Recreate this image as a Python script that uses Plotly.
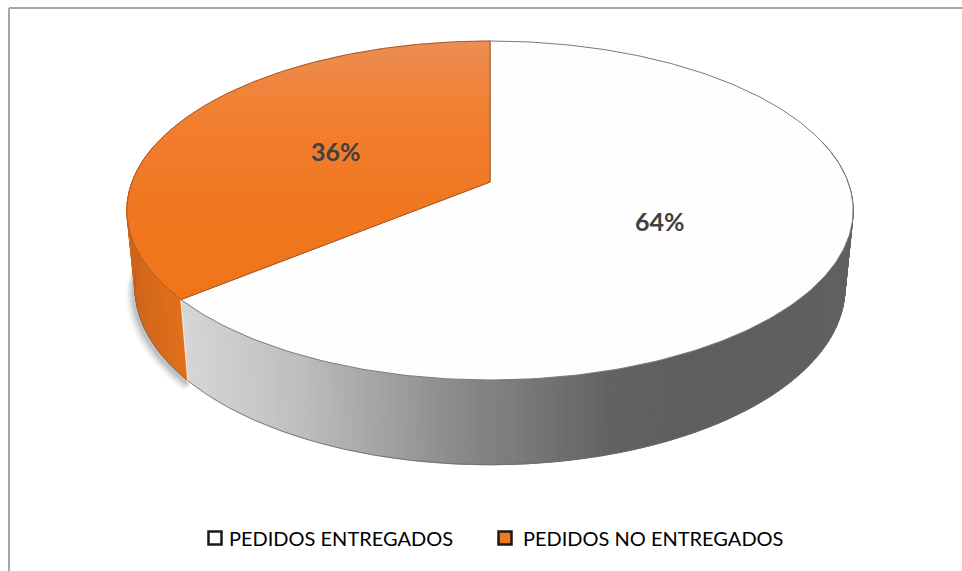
import numpy as np
import plotly.graph_objects as go

categories = ["PEDIDOS ENTREGADOS", "PEDIDOS NO ENTREGADOS"]
values = [64, 36]
labels = ["64%", "36%"]

# projection of the tilted disc, in pixels of the figure
CX, CY_TOP, A_TOP, B_TOP = 490.0, 182.0, 358.0, 164.7
CY_BOT, A_BOT, B_BOT = 258.0, 350.0, 172.0
K = 0.168

def project(t, r=1.0, cy=CY_TOP, a=A_TOP, b=B_TOP):
    """t: clockwise angle from 12 o'clock in radians."""
    u, v = r * np.sin(t), r * np.cos(t)
    w = 1 + K * v
    return CX + a * u / w, cy - b * v / w

def lerp_color(stops, x):
    xs = [s[0] for s in stops]
    out = [np.interp(x, xs, [s[1][i] for s in stops]) for i in range(3)]
    return "rgb(%d,%d,%d)" % tuple(int(round(c)) for c in out)

def clip_band(px, py, y0, y1):
    def clip(pts, inside, cross):
        res = []
        for i in range(len(pts)):
            p, q = pts[i], pts[(i + 1) % len(pts)]
            if inside(p):
                res.append(p)
                if not inside(q):
                    res.append(cross(p, q))
            elif inside(q):
                res.append(cross(p, q))
        return res
    def at(yy):
        return lambda p, q: (p[0] + (q[0] - p[0]) * (yy - p[1]) / (q[1] - p[1]), yy)
    pts = list(zip(px, py))
    pts = clip(pts, lambda p: p[1] >= y0, at(y0))
    if pts:
        pts = clip(pts, lambda p: p[1] <= y1, at(1 * y1))
    return pts

fig = go.Figure()

def poly(x, y, fill, line=None, width=1):
    fig.add_trace(go.Scatter(
        x=list(x) + [x[0]], y=list(y) + [y[0]], mode="lines", fill="toself",
        fillcolor=fill, line=dict(color=line or fill, width=width),
        hoverinfo="skip", showlegend=False))

split = 2 * np.pi * values[0] / sum(values)   # clockwise end of the first slice

# soft shadow to the left of the orange wall, fading out before the rim's widest point
for off, alpha in [(9, .05), (7, .08), (5, .10), (3, .14)]:
    ts = np.linspace(split - 0.02, np.radians(262), 60)
    bx, by = project(ts, cy=CY_BOT + 2, a=A_BOT, b=B_BOT)
    tx, ty = project(ts[::-1], cy=CY_BOT - 30, a=A_BOT, b=B_BOT)
    poly(np.r_[bx - off, tx], np.r_[by + off * .5, ty],
         "rgba(70,70,70,%.2f)" % alpha, "rgba(0,0,0,0)", 0)

# walls
grey_stops = [(185, (214, 214, 214)), (300, (190, 190, 190)), (450, (140, 140, 140)),
              (610, (98, 98, 98)), (700, (94, 94, 94)), (860, (96, 96, 96))]
orange_stops = [(125, (205, 100, 25)), (190, (228, 112, 28))]

def wall(t0, t1, n, stops):
    edges = np.linspace(t0, t1, n + 1)
    for a, b in zip(edges[:-1], edges[1:]):
        ts = np.array([a, b])
        tx, ty = project(ts)
        bx, by = project(ts[::-1], cy=CY_BOT, a=A_BOT, b=B_BOT)
        poly(np.r_[tx, bx], np.r_[ty, by], lerp_color(stops, (tx.mean() + bx.mean()) / 2))

wall(np.radians(75), split, 170, grey_stops)
wall(split, np.radians(285), 30, orange_stops)
# thin dark lower rim
ts = np.linspace(np.radians(100), np.radians(265), 200)
bx, by = project(ts, cy=CY_BOT, a=A_BOT, b=B_BOT)
fig.add_trace(go.Scatter(x=bx, y=by, mode="lines", line=dict(color="#6a6a6a", width=0.8),
                         hoverinfo="skip", showlegend=False))
# pale edge between the two walls
sx0, sy0 = project(split)
sx1, sy1 = project(split, cy=CY_BOT, a=A_BOT, b=B_BOT)
fig.add_trace(go.Scatter(x=[sx0, sx1], y=[sy0, sy1], mode="lines",
                         line=dict(color="#f2e6dc", width=1.5),
                         hoverinfo="skip", showlegend=False))

# top faces
ts = np.linspace(0, split, 240)
x, y = project(ts)
poly(np.r_[x, CX], np.r_[y, CY_TOP], "#fefefe", "#7a7a7a", 1)

ts = np.linspace(split, 2 * np.pi, 160)
x, y = project(ts)
px, py = np.r_[x, CX], np.r_[y, CY_TOP]
top_stops = [(41, (236, 142, 84)), (110, (241, 128, 50)), (200, (241, 120, 34)), (300, (240, 116, 26))]
edges = np.arange(py.min(), py.max() + 4, 4)
for y0, y1 in zip(edges[:-1], edges[1:]):
    pts = clip_band(px, py, y0, y1 + 0.6)
    if len(pts) >= 3:
        poly([p[0] for p in pts], [p[1] for p in pts],
             lerp_color(top_stops, (y0 + y1) / 2), None, 0.5)
fig.add_trace(go.Scatter(x=list(px) + [px[0]], y=list(py) + [py[0]], mode="lines",
                         line=dict(color="#a85a28", width=1),
                         hoverinfo="skip", showlegend=False))

# percentage labels at half radius of each slice
mids = [split / 2, (split + 2 * np.pi) / 2]
lx, ly = project(np.array(mids), r=0.5)
for text, xv, yv in zip(labels, lx, ly):
    fig.add_annotation(x=xv, y=yv, text=text, showarrow=False, xanchor="center", yanchor="middle",
                       xshift=2, yshift=-3,
                       font=dict(family="Lato", size=25, color="#404040", weight="bold"))

# legend
legend_y = 538
fig.add_trace(go.Scatter(x=[215, 505], y=[legend_y, legend_y], mode="markers",
                         marker=dict(symbol="square", size=13,
                                     color=["#ffffff", "#f07a22"],
                                     line=dict(color="#1a1a1a", width=2.5)),
                         hoverinfo="skip", showlegend=False))
for name, xpos in zip(categories, [227, 521]):
    fig.add_annotation(x=xpos, y=legend_y, text=name, showarrow=False, xanchor="left",
                       yanchor="middle",
                       font=dict(family="Lato", size=20, color="#000000"))

frame = "#a6a6a6"
fig.update_layout(
    width=962, height=571, margin=dict(l=0, r=0, t=0, b=0),
    paper_bgcolor="white", plot_bgcolor="white", showlegend=False,
    xaxis=dict(range=[0, 962], visible=False, fixedrange=True),
    yaxis=dict(range=[571, 0], visible=False, fixedrange=True),
    shapes=[
        dict(type="line", x0=9, x1=962, y0=8, y1=8, line=dict(color=frame, width=2)),
        dict(type="line", x0=9, x1=9, y0=8, y1=571, line=dict(color=frame, width=2)),
    ],
)
fig.write_html("out.html", config={"displayModeBar": False},
               post_script="document.body.style.margin='0';document.body.style.overflow='hidden';")
